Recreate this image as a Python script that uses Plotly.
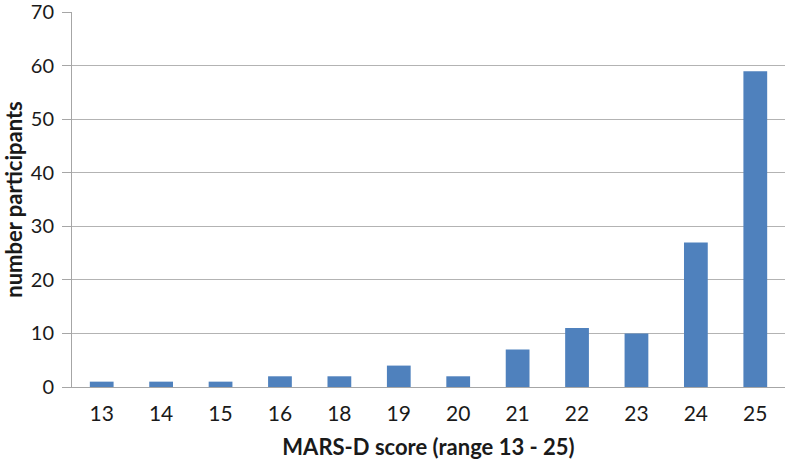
import plotly.graph_objects as go

scores = ['13', '14', '15', '16', '18', '19', '20', '21', '22', '23', '24', '25']
participants = [1, 1, 1, 2, 2, 4, 2, 7, 11, 10, 27, 59]
y_ticks = [0, 10, 20, 30, 40, 50, 60, 70]

fig = go.Figure()
fig.add_trace(
    go.Bar(
        x=scores,
        y=participants,
        marker=dict(color='#4F81BD', line=dict(width=0)),
        name='participants'
    )
)

fig.update_layout(
    width=787,
    height=460,
    margin=dict(l=72, r=2, t=12, b=73),
    plot_bgcolor='white',
    paper_bgcolor='white',
    bargap=0.6,
    showlegend=False,
    font=dict(family='Lato', color='#1a1a1a'),
)

fig.update_xaxes(
    type='category',
    automargin=False,
    showline=True,
    linecolor='#a6a6a6',
    linewidth=1,
    ticks='',
    ticklabelstandoff=8,
    tickfont=dict(size=21),
    title=dict(text='<b>MARS-D score (range 13 - 25)</b>', font=dict(size=22), standoff=16),
)

fig.update_yaxes(
    range=[0, 70.05],
    tickvals=y_ticks,
    automargin=False,
    showgrid=True,
    gridcolor='#b3b3b3',
    gridwidth=1,
    showline=True,
    linecolor='#a6a6a6',
    ticks='outside',
    ticklen=9,
    tickcolor='#a6a6a6',
    ticklabelstandoff=4,
    ticklabeloverflow='allow',
    tickfont=dict(size=20),
    zeroline=False,
    title=dict(text='<b>number participants</b>', font=dict(size=22), standoff=8),
)

# drop the default 8px body margin so the figure sits at the window corner
fig.write_html("out.html", config={'displayModeBar': False},
               post_script="document.body.style.margin='0';")
